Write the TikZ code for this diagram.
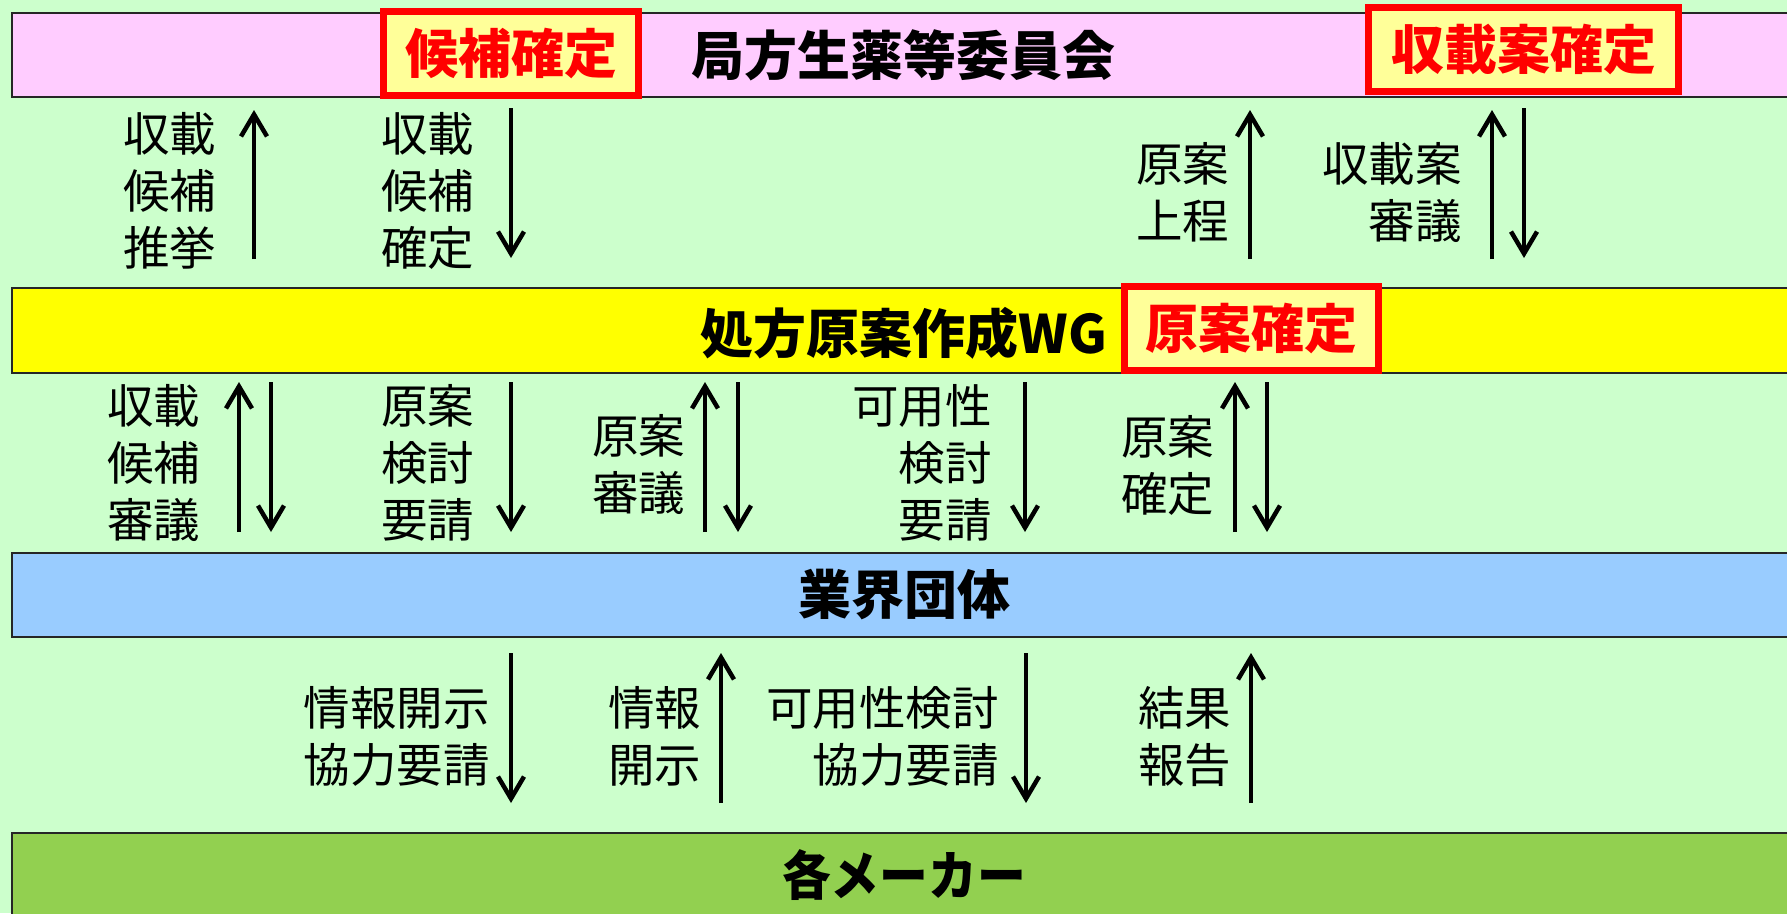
\documentclass[tikz,border=0pt]{standalone}
\usepackage{fontspec}
\setmainfont{Noto Sans CJK JP}
\usetikzlibrary{arrows.meta}
\definecolor{bgc}{HTML}{CCFFCC}
\definecolor{pinkc}{HTML}{FFCCFF}
\definecolor{yelc}{HTML}{FFFF00}
\definecolor{bluec}{HTML}{99CCFF}
\definecolor{grnc}{HTML}{92D050}
\definecolor{boxc}{HTML}{FFFF99}
\definecolor{redc}{HTML}{FF0000}
\tikzset{
  band/.style={draw=black!85, line width=2pt, anchor=north west, inner sep=0pt, minimum width=1790pt},
  title/.style={inner sep=0pt, font=\fontsize{53}{60}\selectfont\bfseries},
  redbox/.style={draw=redc, fill=boxc, line width=7pt, inner sep=0pt, minimum width=#1, minimum height=84pt, text=redc, font=\fontsize{53}{60}\selectfont\bfseries},
  lab/.style={inner sep=0pt, font=\fontsize{46.5}{57}\selectfont},
  arr/.style={line width=4.5pt, -{Straight Barb[length=22pt, width=26pt]}}
}
\begin{document}
\begin{tikzpicture}[x=1pt,y=-1pt]
\useasboundingbox (0,0) rectangle (1787,913);
\fill[bgc] (0,0) rectangle (1787,913);
% bands
\node[band, fill=pinkc, minimum height=84pt] (kyoku) at (11,12) {};
\node[band, fill=yelc, minimum height=85pt] (wg) at (11,287) {};
\node[band, fill=bluec, minimum height=84pt] (dantai) at (11,552) {};
\node[band, fill=grnc, minimum height=100pt] (maker) at (11,832) {};
% titles
\node[title] (t1) at (903,55) {局方生薬等委員会};
\node[title] (t2) at (904,333) {処方原案作成WG};
\node[title] (t3) at (904,595) {業界団体};
\node[title] (t4) at (904,875) {\scalebox{0.92}[1]{各メーカー}};
% red boxes
\node[redbox=255pt] (b1) at (511,53.5) {候補確定};
\node[redbox=310pt] (b2) at (1523.5,49.5) {収載案確定};
\node[redbox=254pt] (b3) at (1251.5,328.5) {原案確定};
% labels section 1
\node[lab, anchor=west, align=left] (l1) at (123,191) {収載\\候補\\推挙};
\node[lab, anchor=west, align=left] (l2) at (381,191) {収載\\候補\\確定};
\node[lab, anchor=west, align=left] (l3) at (1136,192.5) {原案\\上程};
\node[lab, anchor=east, align=right] (l4) at (1462,192.5) {収載案\\審議};
% labels section 2
\node[lab, anchor=west, align=left] (l5) at (107,463) {収載\\候補\\審議};
\node[lab, anchor=west, align=left] (l6) at (381,463) {原案\\検討\\要請};
\node[lab, anchor=west, align=left] (l7) at (592,465) {原案\\審議};
\node[lab, anchor=east, align=right] (l8) at (992,463) {可用性\\検討\\要請};
\node[lab, anchor=west, align=left] (l9) at (1121,465) {原案\\確定};
% labels section 3
\node[lab, anchor=east, align=right] (l10) at (490,736.5) {情報開示\\協力要請};
\node[lab, anchor=west, align=left] (l11) at (608,736.5) {情報\\開示};
\node[lab, anchor=east, align=right] (l12) at (999,736.5) {可用性検討\\協力要請};
\node[lab, anchor=west, align=left] (l13) at (1138,736.5) {結果\\報告};
% arrows
\foreach \n/\x/\ya/\yb in {
  a1/254/259/110, a2/511/108/258, a3/1250/259/110, a4/1492/259/110, a5/1524/108/258,
  a6/239/532/382, a7/271/382/532, a8/511/382/532, a9/705/532/382, a10/738/382/532,
  a11/1025/382/532, a12/1235/532/382, a13/1267/382/532,
  a14/511/653/803, a15/721/803/653, a16/1026/653/803, a17/1251/803/653}{
  \coordinate (s\n) at (\x,\ya);
  \coordinate (e\n) at (\x,\yb);
  \draw[arr] (s\n) -- (e\n);
}
\end{tikzpicture}
\end{document}
